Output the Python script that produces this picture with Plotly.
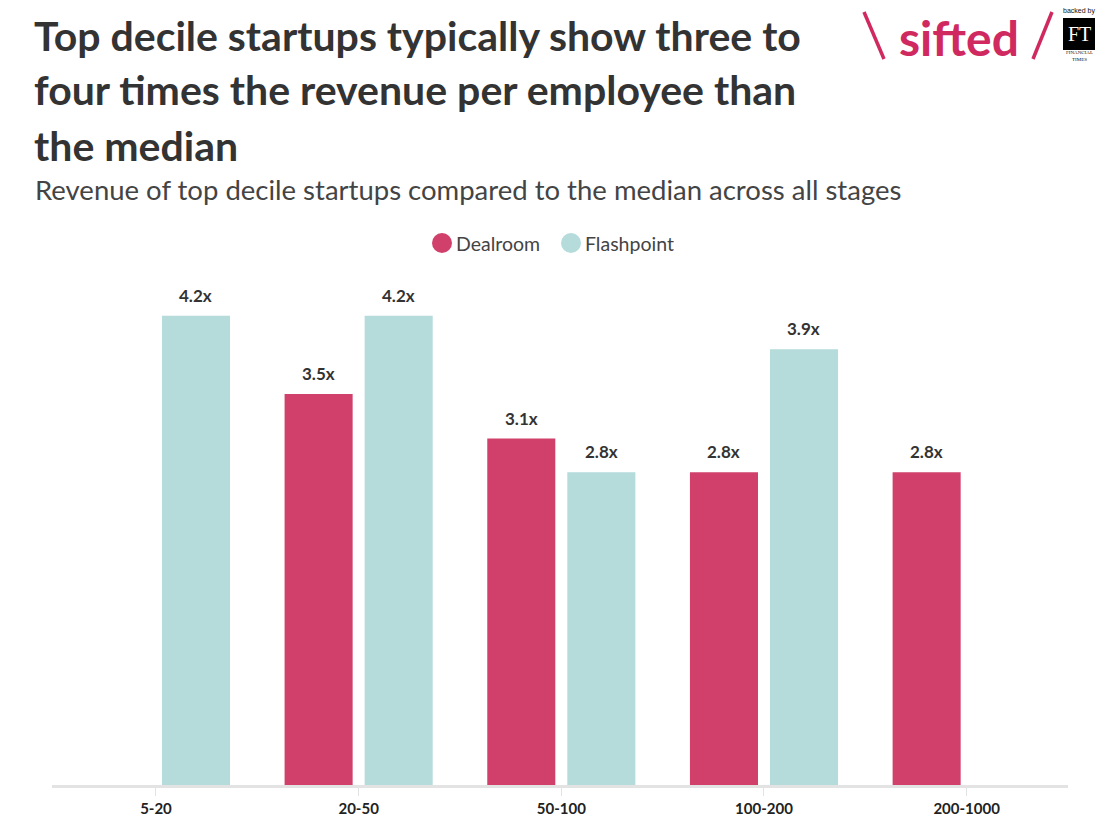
import plotly.graph_objects as go

categories = ["5-20", "20-50", "50-100", "100-200", "200-1000"]
dealroom = [None, 3.5, 3.1, 2.8, 2.8]
flashpoint = [4.2, 4.2, 2.8, 3.9, None]
series_names = ["Dealroom", "Flashpoint"]

title_lines = ["Top decile startups typically show three to",
               "four times the revenue per employee than",
               "the median"]
subtitle = "Revenue of top decile startups compared to the median across all stages"

DEAL_COLOR = "#d0406b"
FLASH_COLOR = "#b5dbdb"
TEXT_DARK = "#333333"
PINK = "#d0295f"
FONT = "Lato"

W, H = 1120, 839
OFF = 8  # page body margin
ML, MR, MT, MB = 52 - OFF, 52 + OFF, 271 - OFF, 54 + OFF
PW, PH = W - ML - MR, H - MT - MB


def px(x):
    return (x - OFF - ML) / PW


def py(y):
    return (H - MB - (y - OFF)) / PH


fig = go.Figure()
colors = [DEAL_COLOR, FLASH_COLOR]
for name, vals, col in zip(series_names, (dealroom, flashpoint), colors):
    fig.add_trace(go.Bar(name=name, x=categories, y=vals, showlegend=False,
                         marker=dict(color=col, line=dict(width=0))))

annotations = []
for series, shift in ((dealroom, -40), (flashpoint, 40)):
    for cat, v in zip(categories, series):
        if v is None:
            continue
        annotations.append(dict(
            x=cat, y=v, xref="x", yref="y", text=f"<b>{v:.1f}x</b>",
            showarrow=False, xshift=shift, yshift=8, yanchor="bottom",
            font=dict(family=FONT, size=17, color=TEXT_DARK)))

# Title lines
for i, line in enumerate(title_lines):
    annotations.append(dict(
        xref="paper", yref="paper", x=px(32), y=py(35 + 55 * i),
        xanchor="left", yanchor="middle", text=f"<b>{line}</b>",
        showarrow=False, font=dict(family=FONT, size=41, color=TEXT_DARK)))
annotations.append(dict(
    xref="paper", yref="paper", x=px(33), y=py(190),
    xanchor="left", yanchor="middle", text=subtitle, showarrow=False,
    font=dict(family=FONT, size=27.5, color="#444444")))

shapes = []

# Legend (manual, circles)
legend_x = [442, 571]
for name, col, cx in zip(series_names, colors, legend_x):
    shapes.append(dict(type="circle", xref="paper", yref="paper",
                       x0=px(cx - 10), x1=px(cx + 10), y0=py(253), y1=py(233),
                       fillcolor=col, line=dict(width=0)))
    annotations.append(dict(xref="paper", yref="paper", x=px(cx + 12), y=py(243),
                            xanchor="left", yanchor="middle", text=name,
                            showarrow=False,
                            font=dict(family=FONT, size=19.5, color="#444444")))

# Logo: \ sifted / backed by FT
annotations.append(dict(
    xref="paper", yref="paper", x=px(959), y=py(37), xanchor="center",
    yanchor="middle", text="<b>sifted</b>", showarrow=False, borderpad=0,
    font=dict(family=FONT, size=48, color=PINK)))
annotations.append(dict(
    xref="paper", yref="paper", x=px(1079), y=py(11), xanchor="center",
    yanchor="middle", text="backed by", showarrow=False,
    font=dict(family="Liberation Sans", size=7, color="#111111")))
annotations.append(dict(
    xref="paper", yref="paper", x=px(1079), y=py(34), xanchor="center",
    yanchor="middle", text="FT", showarrow=False,
    font=dict(family="Liberation Serif", size=20, color="white")))
annotations.append(dict(
    xref="paper", yref="paper", x=px(1079), y=py(56), xanchor="center",
    yanchor="middle", text="FINANCIAL<br>TIMES", showarrow=False,
    font=dict(family="Liberation Serif", size=5, color="#111111")))

shapes += [
    dict(type="line", xref="paper", yref="paper", x0=px(864), y0=py(12),
         x1=px(884), y1=py(59), line=dict(color=PINK, width=3.5)),
    dict(type="line", xref="paper", yref="paper", x0=px(1052), y0=py(12),
         x1=px(1033), y1=py(59), line=dict(color=PINK, width=3.5)),
    dict(type="rect", xref="paper", yref="paper", x0=px(1063), y0=py(18),
         x1=px(1095), y1=py(50), fillcolor="black", line=dict(width=0)),
]

fig.update_layout(
    width=W, height=H,
    margin=dict(l=ML, r=MR, t=MT, b=MB, autoexpand=False),
    paper_bgcolor="white", plot_bgcolor="white",
    barmode="group", bargap=0.21, bargroupgap=0.15,
    font=dict(family=FONT, color=TEXT_DARK),
    showlegend=False,
    xaxis=dict(type="category", showgrid=False, showline=True, linecolor="#e3e3e3",
               linewidth=3, ticks="outside", ticklen=8, tickcolor="#e3e3e3",
               tickfont=dict(family=FONT, size=15, color="#222222", weight="bold"),
               range=[-0.513, 4.5], automargin=False),
    yaxis=dict(range=[0, 4.6], showgrid=False, showticklabels=False, zeroline=False,
               showline=False, automargin=False),
    annotations=annotations,
    shapes=shapes,
)
fig.write_html("out.html")
